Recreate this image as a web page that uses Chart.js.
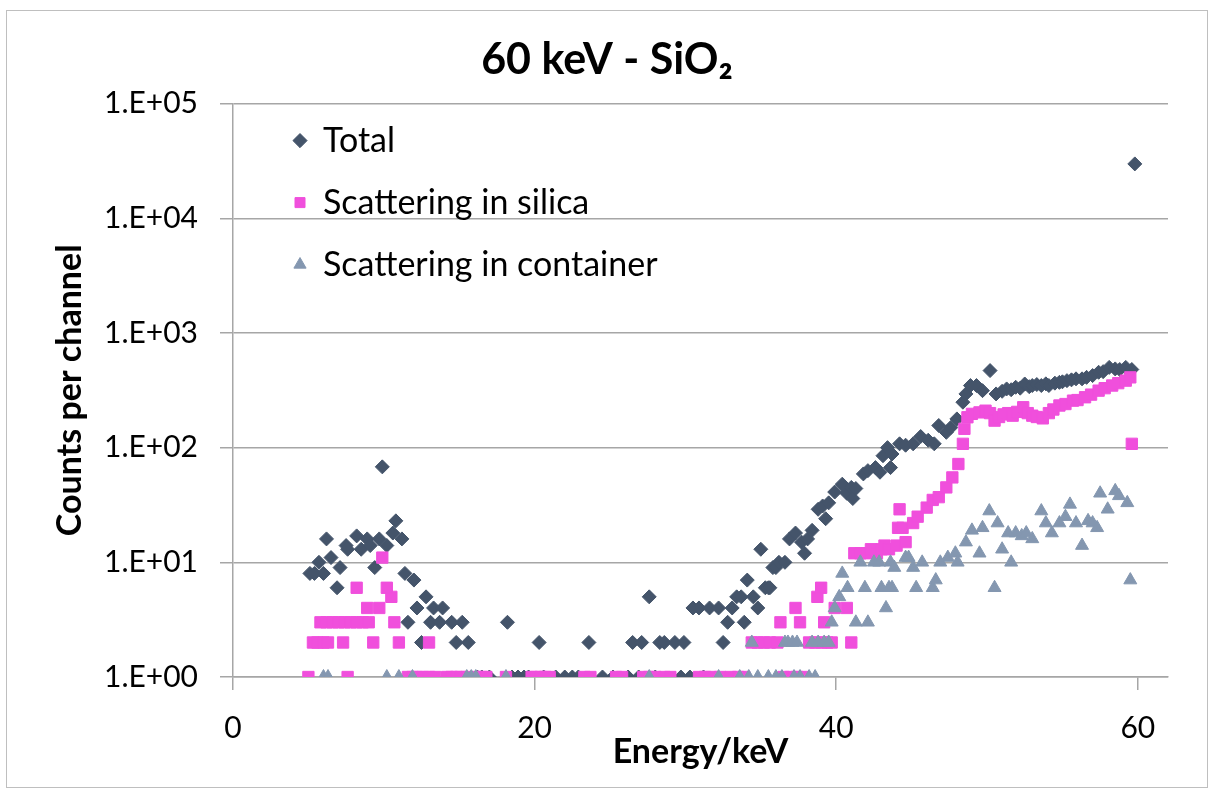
<!DOCTYPE html>
<html>
<head>
<meta charset="utf-8">
<script src="https://cdn.jsdelivr.net/npm/chart.js@4.4.1/dist/chart.umd.min.js"></script>
<style>
  html, body { margin: 0; padding: 0; background: #fff; }
  #box { position: absolute; left: 6px; top: 10px; width: 1200px; height: 776px; border: 1px solid #bfbfbf; }
</style>
</head>
<body>
<div id="box"><canvas id="spectrum-chart"></canvas></div>
<script>
const chartTitle = '60 keV - SiO\u2082';
const xTitle = 'Energy/keV';
const yTitle = 'Counts per channel';
const seriesNames = ['Total', 'Scattering in silica', 'Scattering in container'];
const xTicks = [0, 20, 40, 60];
const yTicks = [1, 10, 100, 1000, 10000, 100000];

const totalEnergy = [
  5.1, 5.4, 5.7, 6.0, 6.2, 6.5, 6.9, 7.1, 7.5, 7.6,
  8.2, 8.5, 8.9, 9.1, 9.4, 9.7, 9.9, 10.2, 10.6, 10.8,
  11.2, 11.4, 11.6, 12.0, 12.2, 12.5, 12.8, 13.1, 13.3, 13.7,
  13.9, 14.5, 14.8, 15.2, 15.6, 16.2, 17.0, 18.2, 18.5, 18.9,
  19.3, 19.6, 20.3, 21.4, 22.5, 22.9, 23.6, 24.5, 26.2, 26.5,
  26.9, 27.1, 27.6, 28.3, 28.6, 29.3, 29.7, 29.9, 30.3, 30.5,
  30.9, 31.6, 32.2, 32.5, 32.8, 33.1, 33.4, 33.7, 33.9, 34.1,
  34.5, 34.8, 35.0, 35.3, 35.5, 35.6, 35.8, 36.0, 36.2, 36.6,
  36.9, 37.3, 37.7, 37.9, 38.1, 38.4, 38.8, 39.1, 39.3, 39.5,
  39.9, 40.4, 40.7, 41.0, 41.1, 41.3, 41.8, 42.1, 42.6, 42.9,
  43.1, 43.4, 43.6, 43.7, 44.2, 44.6, 45.1, 45.6, 46.1, 46.5,
  46.8, 47.3, 47.6, 48.0, 48.4, 48.6, 48.9, 49.3, 49.7, 50.2,
  50.6, 51.0, 51.3, 51.6, 51.9, 52.2, 52.5, 52.8, 53.0, 53.3,
  53.6, 53.9, 54.1, 54.5, 54.8, 55.0, 55.3, 55.6, 55.9, 56.3,
  56.6, 57.0, 57.4, 57.7, 58.1, 58.5, 58.8, 59.2, 59.6, 59.8,
  16.5, 20.6, 22.0, 25.2, 28.0, 31.2
];
const totalCounts = [
  8, 8, 10, 8, 16, 11, 6, 9, 14, 13,
  17, 13, 16, 14, 9, 16, 68, 14, 18, 23,
  16, 8, 3, 7, 4, 2, 5, 3, 4, 3,
  4, 3, 2, 3, 2, 1, 1, 3, 1, 1,
  1, 1, 2, 1, 1, 1, 2, 1, 1, 2,
  1, 2, 5, 2, 2, 2, 1, 2, 1, 4,
  4, 4, 4, 2, 3, 4, 5, 5, 3, 7,
  5, 4, 13, 6, 6, 6, 9, 9, 10, 10,
  16, 18, 15, 12, 16, 19, 29, 31, 24, 33,
  41, 48, 40, 45, 36, 44, 59, 63, 67, 61,
  85, 100, 67, 88, 108, 105, 108, 125, 116, 108,
  156, 136, 150, 178, 249, 294, 348, 348, 314, 470,
  294, 310, 325, 320, 336, 330, 359, 340, 348, 355,
  348, 360, 348, 365, 371, 375, 384, 390, 398, 398,
  410, 425, 454, 460, 501, 486, 480, 501, 480, 29800,
  1, 1, 1, 1, 1, 1
];

const silicaEnergy = [
  5.0, 7.6, 11.6, 11.9, 12.2, 12.6, 13.0, 13.4, 14.2, 14.5,
  14.8, 15.1, 15.5, 16.1, 16.5, 16.8, 18.1, 19.8, 20.1, 20.4,
  20.7, 21.0, 23.3, 23.7, 25.4, 25.8, 27.2, 27.6, 28.0, 28.6,
  29.0, 30.9, 31.3, 31.7, 32.3, 33.0, 33.5, 33.9, 36.5, 37.0,
  37.4, 37.8,
  5.3, 5.6, 6.0, 6.3, 7.3, 9.3, 11.0, 13.0, 34.4, 34.8,
  35.2, 35.6, 36.1, 38.2, 38.6, 39.0, 39.4, 39.7, 41.0,
  5.8, 6.2, 6.6, 7.0, 7.4, 7.8, 8.2, 8.6, 9.0, 10.7, 36.3, 37.6, 39.2,
  8.9, 9.7, 37.3, 39.9, 40.7,
  10.5, 38.75,
  8.2, 10.2, 39.0,
  9.9,
  41.2, 41.6, 42.0, 42.3, 42.7, 43.0, 43.2, 43.5, 44.0, 44.1,
  44.2, 44.4, 44.6, 45.1, 45.4, 46.0, 46.4, 46.8, 47.3, 47.7,
  48.1, 48.4, 48.5, 48.7, 49.0, 49.5, 49.9, 50.2, 50.5, 50.8,
  51.1, 51.4, 51.7, 52.0, 52.4, 52.7, 53.0, 53.3, 53.7, 54.1,
  54.4, 54.8, 55.2, 55.7, 56.0, 56.5, 56.9, 57.4, 57.8, 58.3,
  58.7, 59.2, 59.5, 59.6
];
const silicaCounts = [
  1, 1, 1, 1, 1, 1, 1, 1, 1, 1,
  1, 1, 1, 1, 1, 1, 1, 1, 1, 1,
  1, 1, 1, 1, 1, 1, 1, 1, 1, 1,
  1, 1, 1, 1, 1, 1, 1, 1, 1, 1,
  1, 1,
  2, 2, 2, 2, 2, 2, 2, 2, 2, 2,
  2, 2, 2, 2, 2, 2, 2, 2, 2,
  3, 3, 3, 3, 3, 3, 3, 3, 3, 3, 3, 3, 3,
  4, 4, 4, 4, 4,
  5, 5,
  6, 6, 6,
  11,
  12, 12, 12, 13, 12, 13, 14, 13, 14, 20,
  29, 20, 15, 22, 25, 30, 35, 37, 45, 55,
  72, 108, 146, 184, 197, 203, 210, 200, 172, 185,
  195, 200, 190, 205, 225, 200, 190, 185, 180, 200,
  215, 233, 240, 257, 260, 275, 290, 314, 330, 348,
  365, 384, 410, 108
];

const containerEnergy = [
  6.0, 6.3, 10.2, 11.0, 11.9, 15.5, 15.8, 16.1, 18.1, 27.6,
  32.2, 33.6, 34.2, 34.8, 35.5, 36.0, 36.4, 37.2, 37.6, 38.2,
  38.6,
  34.4, 36.6, 36.8, 37.1, 37.4, 38.4, 38.8, 39.2, 39.5,
  39.7, 41.3, 42.1,
  39.9, 43.3,
  40.2,
  40.75, 41.9, 43.0, 43.7,
  40.4,
  41.6, 42.5, 43.6,
  42.85, 43.5, 43.85, 44.6, 44.8, 45.1, 45.3, 45.7, 46.4, 46.6,
  46.9, 47.4, 47.9, 48.05, 48.6, 49.0, 49.5, 49.7, 50.15, 50.5,
  50.7, 51.0, 51.4, 51.6, 51.9, 52.3, 52.6, 53.0, 53.6, 53.9,
  54.3, 54.8, 55.2, 55.5, 55.9, 56.3, 56.7, 57.0, 57.3, 57.5,
  58.0, 58.5, 58.75, 59.3, 59.5
];
const containerCounts = [
  1, 1, 1, 1, 1, 1, 1, 1, 1, 1,
  1, 1, 1, 1, 1, 1, 1, 1, 1, 1,
  1,
  2, 2, 2, 2, 2, 2, 2, 2, 2,
  3, 3, 3,
  4, 4,
  5,
  6, 6, 6, 6,
  8,
  10, 10, 10,
  10, 6, 9, 11, 11, 9, 6, 10, 6, 7,
  10, 11, 12, 10, 15, 19, 12, 20, 28, 6,
  22, 13, 18, 10, 18, 17, 18, 16, 28, 22,
  18, 22, 25, 32, 22, 14, 23, 22, 20, 40,
  29, 42, 38, 33, 7
];

const FONT = 'Lato, "Open Sans", sans-serif';
const GRID = '#a6a6a6';

function toPoints(xs, ys) {
  return xs.map((x, i) => ({ x, y: ys[i] }));
}

function supExp(v) {
  const e = Math.round(Math.log10(v));
  return '1.E+' + String(e).padStart(2, '0');
}

// put the legend inside the plot, top-left, like the Excel one
const legendNudge = {
  id: 'legendNudge',
  afterLayout(chart) {
    chart.legend.left = chart.chartArea.left + 33;
    chart.legend.top = chart.chartArea.top - 8;
  },
};

new Chart(document.getElementById('spectrum-chart'), {
  type: 'scatter',
  data: {
    datasets: [
      {
        label: seriesNames[0],
        data: toPoints(totalEnergy, totalCounts),
        pointStyle: 'rectRot',
        pointRadius: 7,
        backgroundColor: '#44546a',
        borderColor: '#44546a',
        borderWidth: 1,
        order: 3,
      },
      {
        label: seriesNames[1],
        data: toPoints(silicaEnergy, silicaCounts),
        pointStyle: 'rect',
        pointRadius: 8,
        backgroundColor: '#f04fdc',
        borderColor: '#f04fdc',
        borderWidth: 1,
        order: 2,
      },
      {
        label: seriesNames[2],
        data: toPoints(containerEnergy, containerCounts),
        pointStyle: 'triangle',
        pointRadius: 7.5,
        backgroundColor: '#8497b0',
        borderColor: '#8497b0',
        borderWidth: 1,
        order: 1,
      },
    ],
  },
  options: {
    responsive: true,
    maintainAspectRatio: false,
    animation: false,
    layout: { padding: 0 },
    plugins: {
      title: {
        display: true,
        text: chartTitle,
        color: '#000',
        font: { family: FONT, size: 43, weight: 'bold' },
        padding: { top: 23, bottom: 18 },
      },
      legend: {
        position: 'chartArea',
        align: 'start',
        labels: {
          usePointStyle: true,
          boxWidth: 12,
          boxHeight: 10,
          padding: 28,
          color: '#000',
          font: { family: FONT, size: 34 },
          sort: (a, b) => a.datasetIndex - b.datasetIndex,
        },
      },
      tooltip: { enabled: false },
    },
    scales: {
      x: {
        type: 'linear',
        min: 0,
        max: 62,
        afterBuildTicks: (scale) => { scale.ticks = xTicks.map((v) => ({ value: v })); },
        afterFit: (scale) => { scale.height = 110; },
        grid: { drawOnChartArea: false, color: GRID, lineWidth: 1.5, tickLength: 13 },
        border: { color: GRID, width: 1.5 },
        ticks: { color: '#000', padding: 20, font: { family: FONT, size: 30 } },
        title: {
          display: true,
          text: xTitle,
          color: '#000',
          font: { family: FONT, size: 34, weight: 'bold' },
          padding: { top: 0, bottom: 15 },
        },
      },
      y: {
        type: 'logarithmic',
        min: 1,
        max: 100000,
        afterBuildTicks: (scale) => { scale.ticks = yTicks.map((v) => ({ value: v })); },
        afterFit: (scale) => { scale.width = 226; },
        grid: { color: GRID, lineWidth: 1.5, tickLength: 13 },
        border: { color: GRID, width: 1.5 },
        ticks: {
          color: '#000',
          padding: 22,
          font: { family: FONT, size: 30 },
          callback: (v) => supExp(v),
        },
        title: {
          display: true,
          text: yTitle,
          color: '#000',
          font: { family: FONT, size: 34, weight: 'bold' },
          padding: { top: 43, bottom: 0 },
        },
      },
      // empty right-hand margin, so the title stays centred on the whole chart
      yRight: {
        type: 'linear',
        position: 'right',
        min: 0,
        max: 1,
        grid: { display: false },
        border: { display: false },
        ticks: { display: false },
        afterFit: (scale) => { scale.width = 39; },
      },
    },
  },
  plugins: [legendNudge],
});
</script>
</body>
</html>
